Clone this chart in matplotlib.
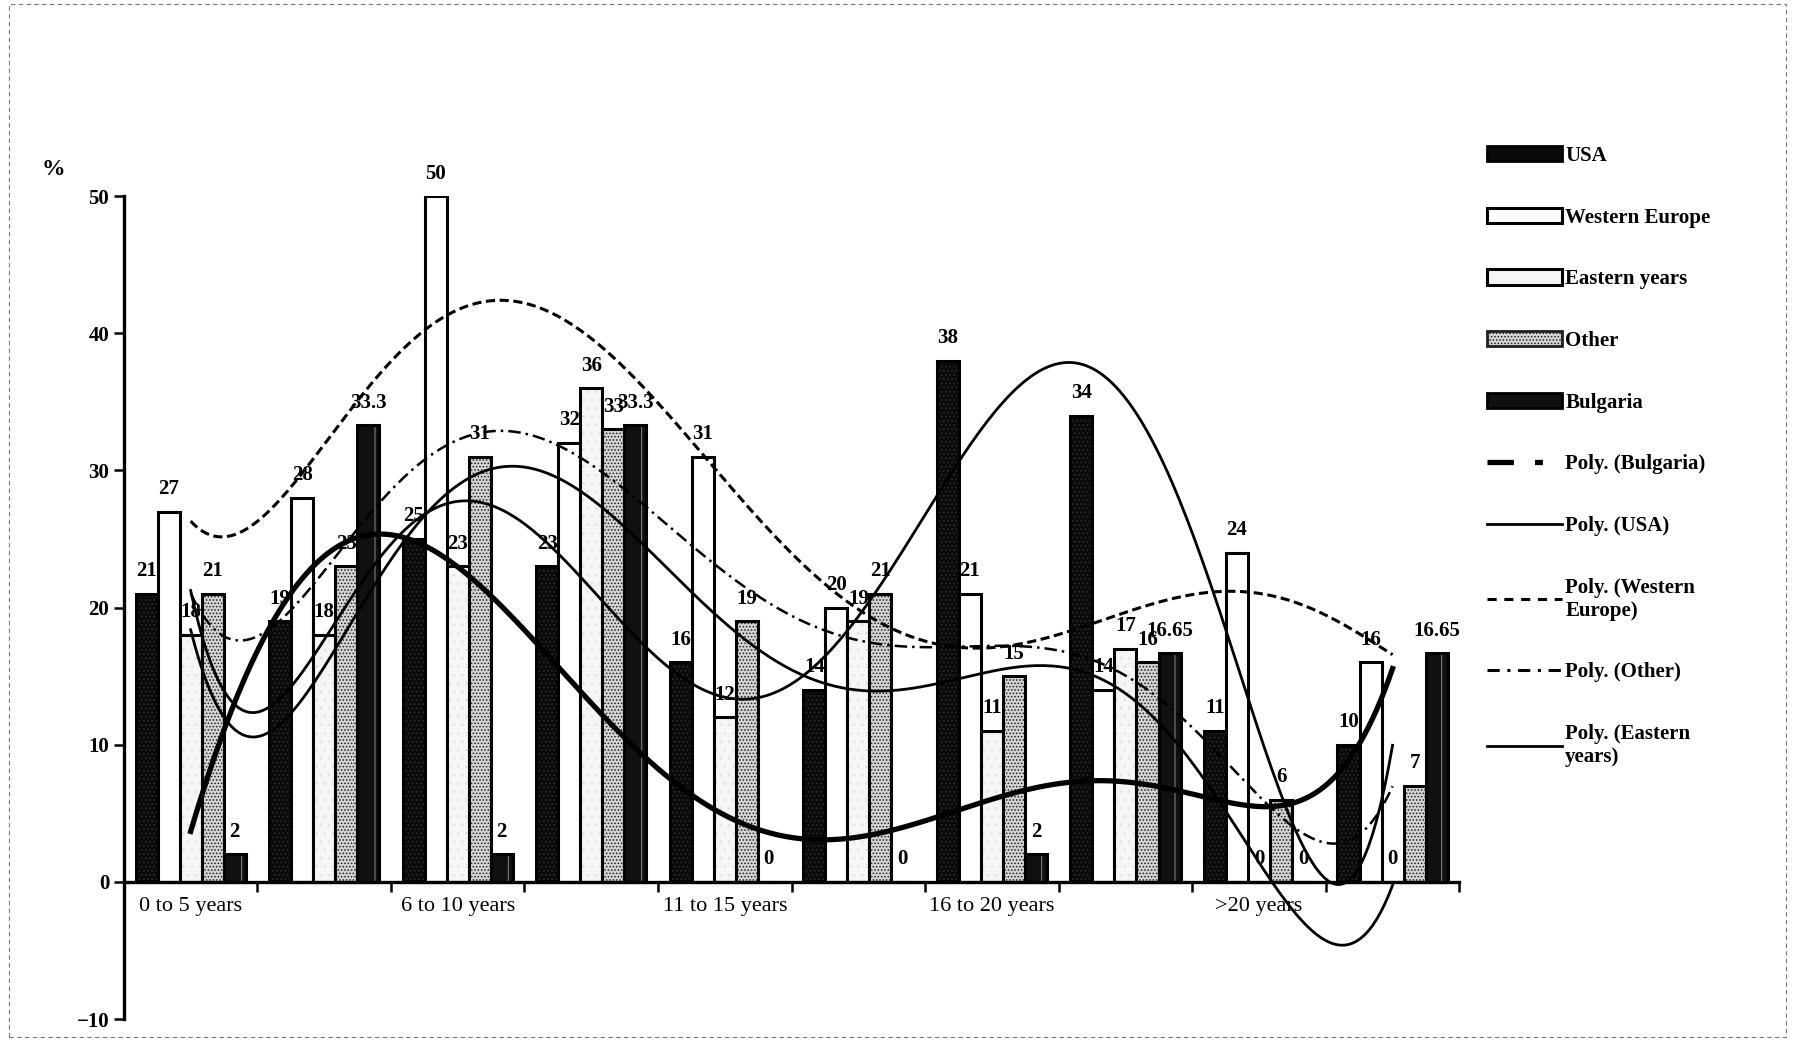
import numpy as np
import matplotlib.pyplot as plt
from matplotlib.patches import Patch, Rectangle
from matplotlib.lines import Line2D

plt.rcParams['font.family'] = ['Liberation Serif', 'DejaVu Serif']
plt.rcParams['hatch.linewidth'] = 0.7

# years of experience groups (only every other one is labelled on the axis)
categories = ['0 to 5 years', '', '6 to 10 years', '', '11 to 15 years', '',
              '16 to 20 years', '', '>20 years', '']

usa            = [21, 19, 25, 23, 16, 14, 38, 34, 11, 10]
western_europe = [27, 28, 50, 32, 31, 20, 21, 14, 24, 16]
eastern_years  = [18, 18, 23, 36, 12, 19, 11, 17, 0, 0]
other          = [21, 23, 31, 33, 19, 21, 15, 16, 6, 7]
bulgaria       = [2, 33.3, 2, 33.3, 0, 0, 2, 16.65, 0, 16.65]

series_names = ['USA', 'Western Europe', 'Eastern years', 'Other', 'Bulgaria']

POLY_ORDER = 6

fig = plt.figure(figsize=(17.95, 10.43), dpi=100)
ax = fig.add_axes([0.069, 0.023, 0.744, 0.789])

x = np.arange(len(categories))
w = 0.165
# fill pass (hatch drawn in the edge colour), then a black outline pass
fill_styles = [
    dict(color='#0a0a0a', edgecolor='#2e2e2e', hatch='....', linewidth=0),
    dict(color='white', edgecolor='white', linewidth=0),
    dict(color='#f6f6f6', edgecolor='#e2e2e2', hatch='..', linewidth=0),
    dict(color='#d4d4d4', edgecolor='#1e1e1e', hatch='.....', linewidth=0),
    dict(color='#101010', edgecolor='#8a8a8a', hatch='|', linewidth=0),
]
data = [usa, western_europe, eastern_years, other, bulgaria]

for i, (vals, st) in enumerate(zip(data, fill_styles)):
    pos = x + (i - 2) * w
    bars = ax.bar(pos, vals, width=w, zorder=2, **st)
    ax.bar(pos, vals, width=w, fill=False, edgecolor='black', linewidth=2.2,
           zorder=2)
    ax.bar_label(bars, labels=[f'{v:g}' for v in vals], padding=9,
                 fontsize=15, fontweight='bold', zorder=5)

# polynomial trend lines over the category positions
xs = np.linspace(x[0], x[-1], 300)
trend_styles = {
    'Bulgaria':       dict(color='black', lw=3.8, ls='-'),
    'USA':            dict(color='black', lw=2.0, ls='-'),
    'Western Europe': dict(color='black', lw=2.2, ls=(0, (3, 1.5))),
    'Other':          dict(color='black', lw=1.8, ls=(0, (5, 2, 1, 2))),
    'Eastern years':  dict(color='black', lw=2.0, ls='-'),
}
series_lookup = dict(zip(series_names, data))
for name, st in trend_styles.items():
    coef = np.polyfit(x, series_lookup[name], POLY_ORDER)
    ax.plot(xs, np.polyval(coef, xs), zorder=4, **st)

# axes styling
ax.set_xlim(-0.5, len(categories) - 0.5)
ax.set_ylim(-10, 50)
ax.set_yticks([-10, 0, 10, 20, 30, 40, 50])
ax.tick_params(axis='y', direction='out', length=7, width=1.8,
               labelsize=15)
for lab in ax.get_yticklabels():
    lab.set_fontweight('bold')

ax.spines['top'].set_visible(False)
ax.spines['right'].set_visible(False)
ax.spines['left'].set_linewidth(2.4)
ax.spines['bottom'].set_position(('data', 0))
ax.spines['bottom'].set_linewidth(2.4)

ax.set_xticks(np.arange(len(categories) + 1) - 0.5)
ax.set_xticklabels([])
ax.tick_params(axis='x', which='major', direction='out', length=7, width=1.8)
ax.set_xticks(x, minor=True)
ax.set_xticklabels(categories, minor=True, fontsize=16)
ax.tick_params(axis='x', which='minor', length=0, pad=11)

fig.text(0.023, 0.832, '%', fontsize=17, fontweight='bold')

handles = [
    Patch(facecolor='#0a0a0a', edgecolor='black', linewidth=2),
    Patch(facecolor='white', edgecolor='black', linewidth=2.2),
    Patch(facecolor='#f6f6f6', edgecolor='black', linewidth=2.2),
    Patch(facecolor='#d4d4d4', edgecolor='#1e1e1e', hatch='.....', linewidth=2),
    Patch(facecolor='#101010', edgecolor='black', linewidth=2),
    Line2D([], [], color='black', lw=3.8, ls=(0, (5, 4, 1.5, 4))),
    Line2D([], [], color='black', lw=2.0, ls='-'),
    Line2D([], [], color='black', lw=2.2, ls=(0, (3, 2.5))),
    Line2D([], [], color='black', lw=2.2, ls=(0, (4, 2.5, 1, 2.5))),
    Line2D([], [], color='black', lw=2.0, ls='-'),
]
labels = series_names + ['Poly. (Bulgaria)', 'Poly. (USA)',
                         'Poly. (Western\nEurope)', 'Poly. (Other)',
                         'Poly. (Eastern\nyears)']
leg = ax.legend(handles, labels, loc='upper left', bbox_to_anchor=(0.818, 0.878),
                bbox_transform=fig.transFigure, frameon=False,
                handlelength=3.6, handleheight=0.75, handletextpad=0.15,
                labelspacing=2.0, prop=dict(size=15, weight='bold'))

# thin scanned-page frame
fig.add_artist(Rectangle((0.005, 0.006), 0.99, 0.99, transform=fig.transFigure,
                         fill=False, ls=(0, (4, 3)), lw=0.8, color='#777777'))

fig.savefig('out.png', dpi=100)
